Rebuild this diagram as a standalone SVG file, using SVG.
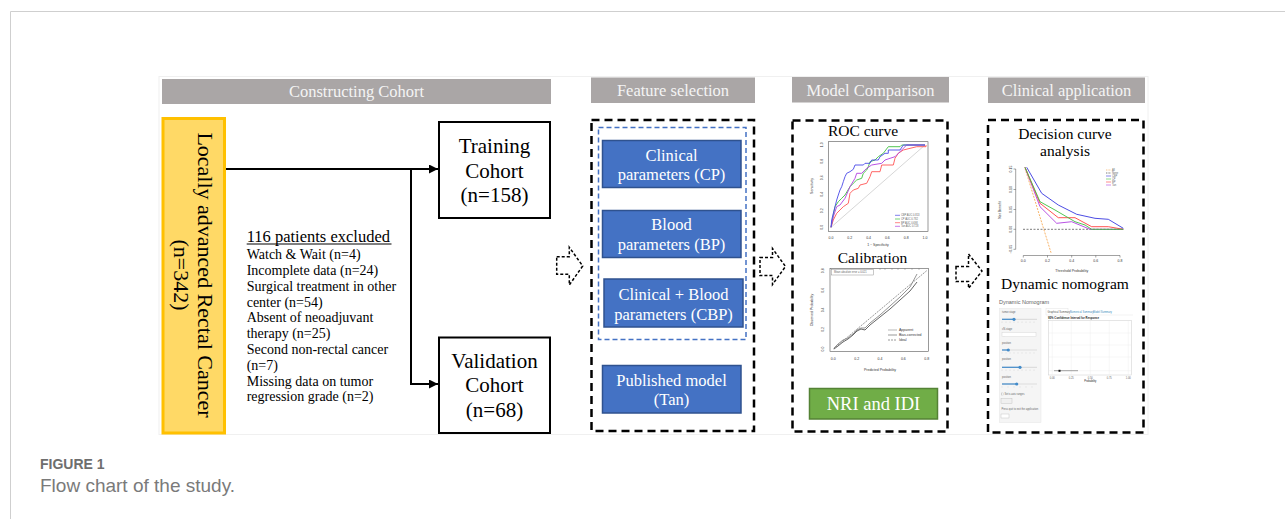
<svg xmlns="http://www.w3.org/2000/svg" width="1285" height="519" viewBox="0 0 1285 519">
<defs>
<style>
.serif{font-family:"Liberation Serif","Times New Roman",serif;}
.sans{font-family:"Liberation Sans",Arial,sans-serif;}
.hdr{fill:#aaa6a6;}
.hdrt{font-family:"Liberation Serif","Times New Roman",serif;font-size:16.5px;fill:#f4f4f4;text-anchor:middle;}
.box{fill:#fff;stroke:#000;stroke-width:2;}
.bt{font-family:"Liberation Serif","Times New Roman",serif;font-size:21px;fill:#000;text-anchor:middle;}
.ex{font-family:"Liberation Serif","Times New Roman",serif;font-size:14px;fill:#000;}
.dbox{fill:none;stroke:#000;stroke-width:2.5;stroke-dasharray:8 5;}
.blue{fill:#4472c4;stroke:#2f528f;stroke-width:1.5;}
.wt{font-family:"Liberation Serif","Times New Roman",serif;font-size:16.5px;fill:#fff;text-anchor:middle;}
.sub{font-family:"Liberation Serif","Times New Roman",serif;font-size:15.5px;fill:#000;text-anchor:middle;}
.conn{fill:none;stroke:#000;stroke-width:2;}
.barrow{fill:#fff;stroke:#000;stroke-width:1.5;stroke-dasharray:3 2;}
.tiny{font-family:"Liberation Sans",Arial,sans-serif;font-size:3.5px;fill:#333;}
.tiny2{font-family:"Liberation Sans",Arial,sans-serif;font-size:2.6px;fill:#666;}
.frame{fill:none;stroke:#555;stroke-width:0.6;}
.curve{fill:none;stroke-width:0.9;}
.trk{stroke:#ddd;stroke-width:1.2;}
.trkf{stroke:#428bca;stroke-width:1.2;}
.hdl{fill:#428bca;}
</style>
<marker id="ah" markerWidth="9" markerHeight="9" refX="9" refY="4.5" orient="auto" markerUnits="userSpaceOnUse">
<path d="M0,0 L9,4.5 L0,9 Z" fill="#000"/>
</marker>
</defs>

<rect width="1285" height="519" fill="#fff"/>
<!-- page frame -->
<path d="M10.5,519 L10.5,11.5 L1285,11.5" fill="none" stroke="#cfcfcf" stroke-width="1"/>
<rect x="159" y="76.5" width="989" height="358" fill="none" stroke="#f0f0f0" stroke-width="1"/>

<!-- headers -->
<g id="hdr-constructing">
<rect class="hdr" x="162" y="79" width="389" height="25"/>
<text class="hdrt" x="356.5" y="97">Constructing Cohort</text>
</g>
<g id="hdr-feature">
<rect class="hdr" x="591" y="77.5" width="164" height="25.5"/>
<text class="hdrt" x="673" y="96">Feature selection</text>
</g>
<g id="hdr-model">
<rect class="hdr" x="792" y="77" width="157" height="25.5"/>
<text class="hdrt" x="870.5" y="96">Model Comparison</text>
</g>
<g id="hdr-clinical">
<rect class="hdr" x="988" y="77.5" width="157" height="25.5"/>
<text class="hdrt" x="1066.5" y="96">Clinical application</text>
</g>

<!-- connectors -->
<g id="connectors">
<line class="conn" x1="226" y1="169" x2="438" y2="169" marker-end="url(#ah)"/>
<polyline class="conn" points="411,169 411,384 438,384" marker-end="url(#ah)"/>
<path class="barrow" d="M556.7,256.7 L569.3,256.7 L569.3,247.3 L582.7,266 L569.3,285 L569.3,274.3 L556.7,274.3 Z"/>
<path class="barrow" d="M760,257.5 L772.5,257.5 L772.5,248.5 L785.5,266.5 L772.5,284.5 L772.5,275.5 L760,275.5 Z"/>
<path class="barrow" d="M956,266.5 L968.5,266.5 L968.5,254 L982,271 L968.5,288.3 L968.5,281.5 L956,281.5 Z"/>
</g>

<!-- source node -->
<g id="node-source">
<rect x="163" y="118.5" width="61.5" height="314.5" fill="#ffd966" stroke="#ffc000" stroke-width="3"/>
<g transform="translate(198.3,275) rotate(90)">
<text class="serif" x="0" y="0" font-size="22" text-anchor="middle">Locally advanced Rectal Cancer</text>
<text class="serif" x="0" y="24" font-size="22" text-anchor="middle">(n=342)</text>
</g>
</g>

<g id="node-training">
<rect class="box" x="439" y="122" width="111" height="96"/>
<text class="bt" x="494.5" y="153">Training</text>
<text class="bt" x="494.5" y="177.5">Cohort</text>
<text class="bt" x="494.5" y="202">(n=158)</text>
</g>

<g id="node-validation">
<rect class="box" x="439" y="337.5" width="111" height="95.5"/>
<text class="bt" x="494.5" y="367.5">Validation</text>
<text class="bt" x="494.5" y="392">Cohort</text>
<text class="bt" x="494.5" y="416.5">(n=68)</text>
</g>

<g id="node-excluded">
<text class="serif" x="246.7" y="241.5" font-size="16.5">116 patients excluded</text>
<line x1="246.7" y1="244" x2="391.5" y2="244" stroke="#000" stroke-width="1"/>
<text class="ex" x="246.7" y="259">Watch &amp; Wait (n=4)</text>
<text class="ex" x="246.7" y="275">Incomplete data (n=24)</text>
<text class="ex" x="246.7" y="290.7">Surgical treatment in other</text>
<text class="ex" x="246.7" y="306.6">center (n=54)</text>
<text class="ex" x="246.7" y="322.3">Absent of neoadjuvant</text>
<text class="ex" x="246.7" y="338.2">therapy (n=25)</text>
<text class="ex" x="246.7" y="354">Second non-rectal cancer</text>
<text class="ex" x="246.7" y="369.6">(n=7)</text>
<text class="ex" x="246.7" y="385.6">Missing data on tumor</text>
<text class="ex" x="246.7" y="401.3">regression grade (n=2)</text>
</g>

<!-- feature selection -->
<g id="node-feature">
<rect class="dbox" x="591.5" y="120" width="162.5" height="311"/>
<rect x="598.5" y="127.5" width="147.5" height="212" fill="none" stroke="#4472c4" stroke-width="1.5" stroke-dasharray="5 3"/>
</g>
<g id="node-cp">
<rect class="blue" x="602.5" y="140.5" width="138.5" height="47"/>
<text class="wt" x="671.5" y="160.5">Clinical</text>
<text class="wt" x="671.5" y="180">parameters (CP)</text>
</g>
<g id="node-bp">
<rect class="blue" x="602.5" y="210.5" width="138.5" height="47"/>
<text class="wt" x="671.5" y="230">Blood</text>
<text class="wt" x="671.5" y="250">parameters (BP)</text>
</g>
<g id="node-cbp">
<rect class="blue" x="604" y="279" width="139" height="48"/>
<text class="wt" x="673.5" y="300">Clinical + Blood</text>
<text class="wt" x="673.5" y="319.5">parameters (CBP)</text>
</g>
<g id="node-tan">
<rect class="blue" x="602.5" y="365.5" width="138.5" height="47.5"/>
<text class="wt" x="671.5" y="385.7">Published model</text>
<text class="wt" x="671.5" y="405">(Tan)</text>
</g>

<!-- model comparison -->
<g id="node-model">
<rect class="dbox" x="792.5" y="120.5" width="155" height="311"/>
</g>

<g id="node-roc">
<text class="sub" x="863" y="136">ROC curve</text>
<rect class="frame" x="828.3" y="141.7" width="99.7" height="89.8" fill="#fff"/>
<line x1="831" y1="227.3" x2="925" y2="145" stroke="#bbb" stroke-width="0.6"/>
<polyline class="curve" stroke="#ff5555" points="831,227.3 833.3,220 836.7,213.3 840,210 843.3,206.7 848.3,203.3 850,193.3 853.3,190 858.3,188.3 860,185 866.7,183.3 870,176.7 871.7,171.7 880,171.7 881.7,165 893.3,165 895,158.3 898.3,153.3 903.3,150 916.7,146.7 926,146.7 926,145"/>
<polyline class="curve" stroke="#40c040" points="831,227.3 833.3,215 835,206.7 838.3,201.7 841.7,198.3 845,195 850,186.7 853.3,183.3 856.7,180 861.7,178.3 863.3,173.3 866.7,170 868.3,166.7 870,161.7 875,160 878.3,156.7 883.3,153.3 888.3,146.7 900,146.7 901.7,145 925,145"/>
<polyline class="curve" stroke="#b040e0" points="831,227.3 833.3,216.7 836.7,206.7 840,205 845,198.3 850,186.7 855,178.3 856.7,173.3 861.7,173.3 866.7,168.3 871.7,165 881.7,163.3 885,160 890,158.3 895,156.7 900,151.7 903.3,148.3 906.7,145 925,145"/>
<polyline class="curve" stroke="#4848e8" points="831,227.3 831.7,220 833.3,213.3 835,206.7 836.7,200 838.3,195 840,190 841.7,186.7 843.3,181.7 845,176.7 846.7,173.3 850,171.7 853.3,169.3 855,165 863.3,165 865,163.3 870,163.3 871.7,160 878.3,160 880,156.7 885,153.3 888.3,153.3 888.3,150 900,150 903.3,145 925,145"/>
<g stroke-width="0.7">
<line x1="895" y1="215.3" x2="900" y2="215.3" stroke="#4848e8"/>
<line x1="895" y1="219" x2="900" y2="219" stroke="#40c040"/>
<line x1="895" y1="222.7" x2="900" y2="222.7" stroke="#ff5555"/>
<line x1="895" y1="226.3" x2="900" y2="226.3" stroke="#b040e0"/>
</g>
<text class="tiny2" x="901" y="216.2">CBP AUC 0.813</text>
<text class="tiny2" x="901" y="219.9">CP AUC 0.782</text>
<text class="tiny2" x="901" y="223.6">BP AUC 0.698</text>
<text class="tiny2" x="901" y="227.2">Tan AUC 0.728</text>
<g class="tiny" text-anchor="middle">
<text x="831" y="239">0.0</text><text x="849.8" y="239">0.2</text><text x="868.6" y="239">0.4</text><text x="887.4" y="239">0.6</text><text x="906.2" y="239">0.8</text><text x="925" y="239">1.0</text>
<text x="878" y="246">1 − Specificity</text>
<text transform="translate(823,227.3) rotate(-90)">0.0</text>
<text transform="translate(823,210.8) rotate(-90)">0.2</text>
<text transform="translate(823,194.3) rotate(-90)">0.4</text>
<text transform="translate(823,177.7) rotate(-90)">0.6</text>
<text transform="translate(823,161.2) rotate(-90)">0.8</text>
<text transform="translate(823,144.7) rotate(-90)">1.0</text>
<text transform="translate(813,186) rotate(-90)">Sensitivity</text>
</g>
</g>

<g id="node-calibration">
<text class="sub" x="872.5" y="262.5">Calibration</text>
<rect class="frame" x="830" y="268.3" width="98.3" height="83.4" fill="#fff"/>
<rect x="831.7" y="269.3" width="41.6" height="5.7" fill="#fff" stroke="#777" stroke-width="0.4"/>
<text class="tiny2" x="834" y="273.2">Mean absolute error = 0.021</text>
<g stroke="#666" stroke-width="0.4">
<line x1="880" y1="268.3" x2="880" y2="270"/><line x1="885" y1="268.3" x2="885" y2="270"/><line x1="892" y1="268.3" x2="892" y2="270"/><line x1="898" y1="268.3" x2="898" y2="270"/><line x1="905" y1="268.3" x2="905" y2="270"/><line x1="912" y1="268.3" x2="912" y2="270"/><line x1="919" y1="268.3" x2="919" y2="270"/>
</g>
<line x1="833.3" y1="349" x2="926.7" y2="270.7" stroke="#555" stroke-width="0.6" stroke-dasharray="2 1"/>
<polyline class="curve" stroke="#888" points="834,348 838,344 843,340 848,338 853,334 857,330 861,328 865,328 870,323 880,315 890,306 900,297 910,287 917,274"/>
<polyline class="curve" stroke="#555" points="834,349 838,346 843,342 848,339 853,335 857,331 861,329 865,330 870,325 880,317 890,309 900,300 910,291 917,282"/>
<g stroke-width="0.6">
<line x1="888" y1="330" x2="897" y2="330" stroke="#888"/>
<line x1="888" y1="335" x2="897" y2="335" stroke="#555"/>
<line x1="888" y1="340" x2="897" y2="340" stroke="#555" stroke-dasharray="2 1"/>
</g>
<text class="tiny" x="899" y="331.2">Apparent</text>
<text class="tiny" x="899" y="336.2">Bias-corrected</text>
<text class="tiny" x="899" y="341.2">Ideal</text>
<g class="tiny" text-anchor="middle">
<text x="833.3" y="360">0.0</text><text x="856.7" y="360">0.2</text><text x="880" y="360">0.4</text><text x="903.4" y="360">0.6</text><text x="926.7" y="360">0.8</text>
<text x="880" y="371">Predicted Probability</text>
<text transform="translate(824,349) rotate(-90)">0.0</text>
<text transform="translate(824,329.4) rotate(-90)">0.2</text>
<text transform="translate(824,309.9) rotate(-90)">0.4</text>
<text transform="translate(824,290.3) rotate(-90)">0.6</text>
<text transform="translate(824,270.7) rotate(-90)">0.8</text>
<text transform="translate(813,310) rotate(-90)">Observed Probability</text>
</g>
</g>

<g id="node-nri">
<rect x="809.5" y="388.5" width="128" height="30.5" fill="#70ad47" stroke="#548235" stroke-width="1.5"/>
<text class="serif" x="873.5" y="410" font-size="18.5" fill="#fff" text-anchor="middle">NRI and IDI</text>
</g>

<!-- clinical application -->
<g id="node-clinical">
<rect class="dbox" x="988" y="120" width="155.5" height="312.5"/>
</g>

<g id="node-dca">
<text class="sub" x="1065" y="139.3">Decision curve</text>
<text class="sub" x="1065" y="156">analysis</text>
<g stroke="#444" stroke-width="0.5">
<line x1="1015.7" y1="169" x2="1015.7" y2="249.3"/>
<line x1="1013.5" y1="169" x2="1015.7" y2="169"/><line x1="1013.5" y1="189.5" x2="1015.7" y2="189.5"/><line x1="1013.5" y1="209.5" x2="1015.7" y2="209.5"/><line x1="1013.5" y1="229.3" x2="1015.7" y2="229.3"/><line x1="1013.5" y1="249.3" x2="1015.7" y2="249.3"/>
<line x1="1023.3" y1="255.5" x2="1120" y2="255.5"/>
<line x1="1023.3" y1="255.5" x2="1023.3" y2="257.5"/><line x1="1047.5" y1="255.5" x2="1047.5" y2="257.5"/><line x1="1071.7" y1="255.5" x2="1071.7" y2="257.5"/><line x1="1095.8" y1="255.5" x2="1095.8" y2="257.5"/><line x1="1120" y1="255.5" x2="1120" y2="257.5"/>
</g>
<line x1="1023" y1="229.3" x2="1124" y2="229.3" stroke="#222" stroke-width="0.6" stroke-dasharray="2 1.5"/>
<line x1="1025" y1="168.3" x2="1051" y2="252.7" stroke="#f5a040" stroke-width="0.8" stroke-dasharray="2 1.2"/>
<polyline class="curve" stroke="#b040e0" points="1025,167.3 1040,206.7 1056.7,223.3 1071.7,221.7 1090,229.3 1123.3,229.3"/>
<polyline class="curve" stroke="#ff4040" points="1025,167.3 1040,203.3 1058.3,217.7 1075,217.7 1091.7,226.7 1108.3,226.7 1123.3,229.3"/>
<polyline class="curve" stroke="#40c040" points="1025,167.3 1040,201.7 1055,210 1075,221.7 1085,225 1091.7,229.3 1123.3,229.3"/>
<polyline class="curve" stroke="#3838e0" points="1026.7,167.3 1041.7,193.3 1058.3,205 1076.7,214.3 1095,218.3 1108.3,219.3 1123.3,228.3"/>
<g stroke-width="0.6">
<line x1="1106" y1="170" x2="1111" y2="170" stroke="#f5a040" stroke-dasharray="1 0.6"/>
<line x1="1106" y1="173" x2="1111" y2="173" stroke="#222" stroke-dasharray="1 0.6"/>
<line x1="1106" y1="176" x2="1111" y2="176" stroke="#3838e0"/>
<line x1="1106" y1="179" x2="1111" y2="179" stroke="#40c040"/>
<line x1="1106" y1="182" x2="1111" y2="182" stroke="#ff4040"/>
<line x1="1106" y1="185" x2="1111" y2="185" stroke="#b040e0"/>
</g>
<g class="tiny2">
<text x="1112" y="170.9">All</text><text x="1112" y="173.9">None</text><text x="1112" y="176.9">CBP</text><text x="1112" y="179.9">CP</text><text x="1112" y="182.9">BP</text><text x="1112" y="185.9">Tan</text>
</g>
<g class="tiny" text-anchor="middle">
<text x="1023.3" y="262">0.0</text><text x="1047.5" y="262">0.2</text><text x="1071.7" y="262">0.4</text><text x="1095.8" y="262">0.6</text><text x="1120" y="262">0.8</text>
<text x="1071.7" y="272">Threshold Probability</text>
<text transform="translate(1012,169) rotate(-90)">0.15</text>
<text transform="translate(1012,189.5) rotate(-90)">0.10</text>
<text transform="translate(1012,209.5) rotate(-90)">0.05</text>
<text transform="translate(1012,229.3) rotate(-90)">0.00</text>
<text transform="translate(1012,249.3) rotate(-90)">−0.05</text>
<text transform="translate(1001,210) rotate(-90)">Net Benefit</text>
</g>
</g>

<g id="node-nomogram">
<text class="sub" x="1065" y="288.5">Dynamic nomogram</text>
<text class="sans" x="999" y="304" font-size="5.5" fill="#666">Dynamic Nomogram</text>
<rect x="999.3" y="308.3" width="41.7" height="114.4" fill="#f5f5f5" stroke="#e6e6e6" stroke-width="0.5"/>
<g class="tiny2">
<text x="1002" y="313">tumor.stage</text>
<text x="1002" y="330">cN.stage</text>
<text x="1002" y="343.5">position</text>
<text x="1002" y="360">position</text>
<text x="1002" y="377.5">position</text>
<text x="1004.5" y="395">Set x-axis ranges</text>
<text x="1002.5" y="402">Predict</text>
<text x="1001.5" y="409.5">Press quit to exit the application</text>
<text x="1002.3" y="417">Quit</text>
<text x="1003.5" y="335.5">yes</text>
</g>
<line class="trk" x1="1002" y1="319.3" x2="1037" y2="319.3"/><line class="trkf" x1="1002" y1="319.3" x2="1014" y2="319.3"/><circle class="hdl" cx="1014" cy="319.3" r="1.6"/>
<line class="trk" x1="1002" y1="350" x2="1037" y2="350"/><line class="trkf" x1="1002" y1="350" x2="1008.3" y2="350"/><circle class="hdl" cx="1008.3" cy="350" r="1.6"/>
<line class="trk" x1="1002" y1="367.3" x2="1037" y2="367.3"/><line class="trkf" x1="1002" y1="367.3" x2="1020" y2="367.3"/><circle class="hdl" cx="1020" cy="367.3" r="1.6"/>
<line class="trk" x1="1002" y1="384" x2="1037" y2="384"/><line class="trkf" x1="1002" y1="384" x2="1016.7" y2="384"/><circle class="hdl" cx="1016.7" cy="384" r="1.6"/>
<g stroke="#bbb" stroke-width="0.3">
<path d="M1002,321.5v1.5M1006,321.5v1.5M1010,321.5v1.5M1014,321.5v1.5M1018,321.5v1.5M1022,321.5v1.5M1026,321.5v1.5M1030,321.5v1.5M1034,321.5v1.5"/>
<path d="M1002,352.2v1.5M1006,352.2v1.5M1010,352.2v1.5M1014,352.2v1.5M1018,352.2v1.5M1022,352.2v1.5M1026,352.2v1.5M1030,352.2v1.5M1034,352.2v1.5"/>
<path d="M1002,369.5v1.5M1006,369.5v1.5M1010,369.5v1.5M1014,369.5v1.5M1018,369.5v1.5M1022,369.5v1.5M1026,369.5v1.5M1030,369.5v1.5M1034,369.5v1.5"/>
<path d="M1002,386.2v1.5M1008,386.2v1.5M1014,386.2v1.5M1020,386.2v1.5M1026,386.2v1.5M1032,386.2v1.5"/>
</g>
<rect x="1002" y="332.3" width="34" height="4.5" fill="#fff" stroke="#ccc" stroke-width="0.4"/>
<rect x="1001.8" y="393" width="2" height="2" fill="#fff" stroke="#999" stroke-width="0.3"/>
<rect x="1001" y="398.3" width="11" height="5" fill="#f0f0f0" stroke="#bbb" stroke-width="0.4"/>
<rect x="1001" y="414" width="8" height="4" fill="#fff" stroke="#bbb" stroke-width="0.4"/>
<rect x="1046" y="308.5" width="22" height="6.5" fill="#fff" stroke="#ddd" stroke-width="0.4"/>
<line x1="1068" y1="315" x2="1133" y2="315" stroke="#ddd" stroke-width="0.4"/>
<g class="tiny2" fill="#3c8dbc" font-size="2.2">
<text x="1047.5" y="312.5" fill="#555">Graphical Summary</text>
<text x="1070" y="312.5" fill="#3c8dbc">Numerical Summary</text>
<text x="1093" y="312.5" fill="#3c8dbc">Model Summary</text>
</g>
<text class="sans" x="1048" y="318.5" font-size="2.8" font-weight="bold" fill="#222">95% Confidence Interval for Response</text>
<rect x="1048.3" y="320.7" width="83.4" height="54.3" fill="#fff" stroke="#ccc" stroke-width="0.5"/>
<g stroke="#ececec" stroke-width="0.4">
<line x1="1052.3" y1="321" x2="1052.3" y2="375"/><line x1="1071.3" y1="321" x2="1071.3" y2="375"/><line x1="1090.3" y1="321" x2="1090.3" y2="375"/><line x1="1109.3" y1="321" x2="1109.3" y2="375"/><line x1="1128.3" y1="321" x2="1128.3" y2="375"/>
<line x1="1048.5" y1="333" x2="1131.5" y2="333"/><line x1="1048.5" y1="345" x2="1131.5" y2="345"/><line x1="1048.5" y1="357" x2="1131.5" y2="357"/><line x1="1048.5" y1="370.7" x2="1131.5" y2="370.7"/>
</g>
<line x1="1054" y1="370.7" x2="1078" y2="370.7" stroke="#888" stroke-width="0.8"/>
<rect x="1058.5" y="369.8" width="2" height="2" fill="#111"/>
<g class="tiny2" text-anchor="middle" font-size="2.4">
<text x="1052.3" y="379">0.00</text><text x="1071.3" y="379">0.25</text><text x="1090.3" y="379">0.50</text><text x="1109.3" y="379">0.75</text><text x="1128.3" y="379">1.00</text>
<text x="1090.3" y="382" fill="#222">Probability</text>
</g>
</g>

<!-- caption -->
<text class="sans" x="40" y="468.5" font-size="14" font-weight="bold" fill="#6e6e6e">FIGURE 1</text>
<text class="sans" x="40" y="492" font-size="19" fill="#7a7a7a">Flow chart of the study.</text>
</svg>
